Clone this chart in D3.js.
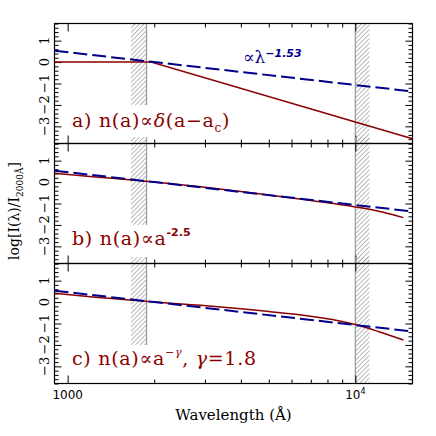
<!DOCTYPE html>
<html><head><meta charset="utf-8">
<script src="https://cdn.jsdelivr.net/npm/d3@7"></script>
<style>body{margin:0;background:#fff}svg{display:block}</style>
</head><body>
<script>
// ---------- data ----------
const panelNames = ["a", "b", "c"];
// power-law reference (blue dashed)
const powLam = [900, 2000, 10000, 15800];
const powVal = [0.53, 0.0, -1.07, -1.37];
// panel a (red)
const aLam = [900, 1950, 10000, 15800];
const aVal = [0.0, 0.0, -2.80, -3.58];
// panel b (red)
const bLam = [900, 1250, 1600, 2000, 2900, 4000, 5000, 6400, 8400, 10000, 11200, 12600, 14700];
const bVal = [0.41, 0.24, 0.12, 0.0, -0.22, -0.44, -0.60, -0.79, -1.00, -1.16, -1.27, -1.42, -1.66];
// panel c (red)
const cLam = [900, 1250, 1600, 2000, 2900, 4000, 5000, 6400, 7900, 8900, 10000, 12000, 14700];
const cVal = [0.41, 0.23, 0.11, 0.0, -0.15, -0.31, -0.44, -0.59, -0.77, -0.89, -1.05, -1.37, -1.77];
// hatched bands (wavelength ranges)
const bandLeft = [1660, 1880];
const bandRight = [10000, 11200];
const bandLeftBottom = -2.0;
// axis
const xDomain = [900, 15800];
const yDomain = [-3.8, 1.8];
const xMajor = [1000, 10000];
const xMinor = [2000, 3000, 4000, 5000, 6000, 7000, 8000, 9000];
const yMajor = [-3, -2, -1, 0, 1];
const yTickLabels = ["−3", "−2", "−1", "0", "1"];
const xTickLabels = ["1000", "10"];

// ---------- layout ----------
const W = 436, H = 436;
const L = 54.5, R = 412.5, top0 = 23.5, PH = 120;
const red = "#8b0000", navy = "#00008b";
const svg = d3.select("body").append("svg").attr("width", W).attr("height", H);

const defs = svg.append("defs");
const pat = defs.append("pattern").attr("id", "hatch").attr("patternUnits", "userSpaceOnUse")
  .attr("width", 3.2).attr("height", 3.2).attr("patternTransform", "rotate(45)");
pat.append("line").attr("x1", 0.5).attr("x2", 0.5).attr("y1", 0).attr("y2", 3.2)
  .attr("stroke", "#9a9a9a").attr("stroke-width", 0.7);

const x = d3.scaleLog().domain(xDomain).range([L, R]);
const redSeries = [[aLam, aVal, d3.curveLinear], [bLam, bVal, d3.curveMonotoneX], [cLam, cVal, d3.curveMonotoneX]];
const yMinor = d3.range(-38, 19, 2).map(v => v / 10).filter(v => !yMajor.some(m => Math.abs(m - v) < 1e-6));

panelNames.forEach((name, i) => {
  const t = top0 + i * PH;
  const y = d3.scaleLinear().domain(yDomain).range([t + PH, t]);
  const g = svg.append("g");
  const hatchTop = i === 0 ? yDomain[1] : 2.1;
  // hatched bands
  g.append("rect").attr("x", x(bandLeft[0])).attr("width", x(bandLeft[1]) - x(bandLeft[0]))
    .attr("y", y(hatchTop)).attr("height", y(bandLeftBottom) - y(hatchTop)).attr("fill", "url(#hatch)");
  g.append("line").attr("x1", x(bandLeft[1])).attr("x2", x(bandLeft[1]))
    .attr("y1", y(hatchTop)).attr("y2", y(bandLeftBottom)).attr("stroke", "#999").attr("stroke-width", 1.2);
  g.append("rect").attr("x", x(bandRight[0])).attr("width", x(bandRight[1]) - x(bandRight[0]))
    .attr("y", y(hatchTop)).attr("height", y(yDomain[0]) - y(hatchTop)).attr("fill", "url(#hatch)");
  g.append("line").attr("x1", x(bandRight[0])).attr("x2", x(bandRight[0]))
    .attr("y1", y(hatchTop)).attr("y2", y(yDomain[0])).attr("stroke", "#999").attr("stroke-width", 1.2);

  // axes with inward ticks
  const mk = (axis, vals, size) => axis.tickValues(vals).tickSize(size).tickFormat("");
  const addAxis = (axis, tx, ty) => {
    const a = g.append("g").attr("transform", `translate(${tx},${ty})`).call(axis);
    a.select(".domain").remove();
    a.selectAll("line").attr("stroke", "#000").attr("stroke-width", 1);
  };
  addAxis(mk(d3.axisBottom(x), xMajor, -8), 0, t + PH);
  addAxis(mk(d3.axisBottom(x), xMinor, -4), 0, t + PH);
  addAxis(mk(d3.axisTop(x), xMajor, -8), 0, t);
  addAxis(mk(d3.axisTop(x), xMinor, -4), 0, t);
  addAxis(mk(d3.axisLeft(y), yMajor, -7), L, 0);
  addAxis(mk(d3.axisLeft(y), yMinor, -4), L, 0);
  addAxis(mk(d3.axisRight(y), yMajor, -7), R, 0);
  addAxis(mk(d3.axisRight(y), yMinor, -4), R, 0);

  g.append("rect").attr("x", L).attr("y", t).attr("width", R - L).attr("height", PH)
    .attr("fill", "none").attr("stroke", "#000").attr("stroke-width", 1.2);

  // y tick labels (rotated)
  yMajor.forEach((v, k) => {
    g.append("text").attr("transform", `translate(49,${y(v)}) rotate(-90)`)
      .attr("text-anchor", "middle").attr("font-family", "DejaVu Serif").attr("font-size", 13)
      .attr("fill", "#000").text(yTickLabels[k]);
  });

  // lines
  const [lam, val, crv] = redSeries[i];
  const line = d3.line().x(d => x(d[0])).y(d => y(d[1])).curve(crv);
  g.append("path").datum(lam.map((l, k) => [l, val[k]])).attr("d", line)
    .attr("fill", "none").attr("stroke", red).attr("stroke-width", 1.5);
  g.append("path").datum(powLam.map((l, k) => [l, powVal[k]])).attr("d", d3.line().x(d => x(d[0])).y(d => y(d[1])))
    .attr("fill", "none").attr("stroke", navy).attr("stroke-width", 2).attr("stroke-dasharray", "14,5");

  // panel labels
  const tx = g.append("text").attr("x", 72).attr("y", t + (i === 0 ? 103.5 : 101.5))
    .attr("font-family", "DejaVu Serif").attr("font-size", 19).attr("letter-spacing", 0.7).attr("fill", red);
  if (name === "a") {
    tx.append("tspan").text("a) n(a)∝");
    tx.append("tspan").attr("font-style", "italic").text("δ");
    tx.append("tspan").text("(a−a");
    tx.append("tspan").attr("font-size", 12).attr("dy", 5).text("c");
    tx.append("tspan").attr("dy", -5).text(")");
  } else if (name === "b") {
    tx.append("tspan").text("b) n(a)∝a");
    tx.append("tspan").attr("font-family", "DejaVu Sans").attr("font-weight", "bold")
      .attr("font-size", 11).attr("dy", -9).attr("letter-spacing", 0).text("-2.5");
  } else {
    tx.append("tspan").text("c) n(a)∝a");
    tx.append("tspan").attr("font-size", 11).attr("dy", -9).attr("font-style", "italic").text("−γ");
    tx.append("tspan").attr("dy", 9).text(", ");
    tx.append("tspan").attr("font-style", "italic").text("γ");
    tx.append("tspan").text("=1.8");
  }
  if (name === "a") {
    const p = g.append("text").attr("x", 243).attr("y", t + 39.5)
      .attr("font-family", "DejaVu Serif").attr("font-size", 17).attr("fill", navy);
    p.append("tspan").text("∝");
    p.append("tspan").text("λ");
    p.append("tspan").attr("font-family", "DejaVu Sans").attr("font-weight", "bold").attr("font-style", "italic")
      .attr("font-size", 11).attr("dy", -6).text("−1.53");
  }
});

// x tick labels under bottom panel
const yb = top0 + 3 * PH;
svg.append("text").attr("x", x(xMajor[0])).attr("y", yb + 15).attr("text-anchor", "middle")
  .attr("font-family", "DejaVu Sans").attr("font-size", 12).text(xTickLabels[0]);
const t4 = svg.append("text").attr("x", x(xMajor[1])).attr("y", yb + 15).attr("text-anchor", "middle")
  .attr("font-family", "DejaVu Sans").attr("font-size", 12);
t4.append("tspan").text(xTickLabels[1]);
t4.append("tspan").attr("font-size", 8).attr("dy", -5).text("4");

// axis titles
svg.append("text").attr("x", (L + R) / 2).attr("y", 420).attr("text-anchor", "middle")
  .attr("font-family", "DejaVu Serif").attr("font-size", 15).text("Wavelength (Å)");
const yl = svg.append("text").attr("transform", `translate(19,211) rotate(-90)`).attr("text-anchor", "middle")
  .attr("font-family", "DejaVu Serif").attr("font-size", 14);
yl.append("tspan").text("log[I(λ)/I");
yl.append("tspan").attr("font-size", 9).attr("dy", 4).text("2000Å");
yl.append("tspan").attr("dy", -4).text("]");
</script>
</body></html>
